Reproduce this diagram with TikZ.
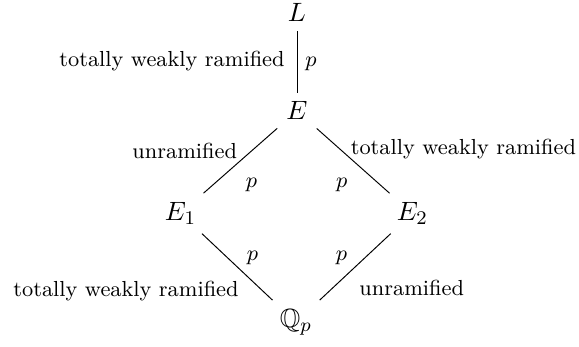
\documentclass[tikz,border=0pt]{standalone}
\usepackage{amssymb}
\begin{document}
\begin{tikzpicture}[x=0.41322pt,y=-0.41322pt,
  obj/.style={inner xsep=3.6pt, inner ysep=3.6pt, anchor=base, font=\fontsize{10.9}{13}\selectfont},
  lab/.style={inner sep=0pt, anchor=base, font=\small},
  conn/.style={line width=0.4pt}]
\useasboundingbox (0,0) rectangle (579,346);
% objects
\node[obj] (L)  at (297,22)    {$L$};
\node[obj] (E)  at (297,120)   {$E$};
\node[obj] (E1) at (180.5,220.5) {$E_1$};
\node[obj] (E2) at (412.3,220.5) {$E_2$};
\node[obj] (Q)  at (296,327.5) {$\mathbb{Q}_p$};
% connectors
\draw[conn] (L) -- (E);
\draw[conn] (E) -- (E1);
\draw[conn] (E) -- (E2);
\draw[conn] (E1) -- (Q);
\draw[conn] (E2) -- (Q);
% labels
\node[lab] (l1) at (172,67) {totally weakly ramified};
\node[lab] (p1) at (311,67) {$p$};
\node[lab] (l2) at (184.7,158) {unramified};
\node[lab] (p2) at (251.5,187) {$p$};
\node[lab] (l3) at (463.4,154.5) {totally weakly ramified};
\node[lab] (p3) at (341.7,187) {$p$};
\node[lab] (p4) at (252.5,260) {$p$};
\node[lab] (p5) at (341.4,260) {$p$};
\node[lab] (l4) at (126,296) {totally weakly ramified};
\node[lab] (l5) at (411.7,295) {unramified};
\end{tikzpicture}
\end{document}
